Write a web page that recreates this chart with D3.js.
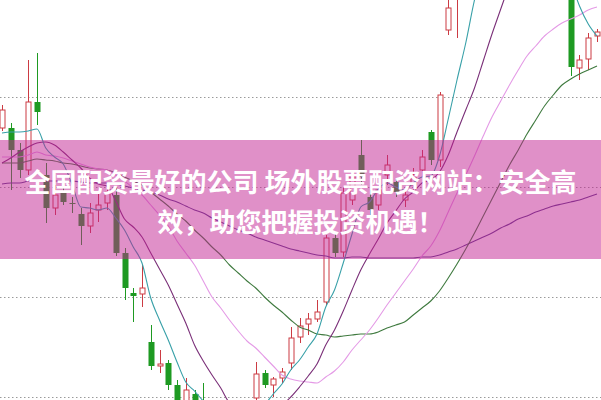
<!DOCTYPE html>
<html>
<head>
<meta charset="utf-8">
<script src="https://cdn.jsdelivr.net/npm/d3@7/dist/d3.min.js"></script>
<style>
  html, body { margin: 0; padding: 0; background: #ffffff; }
  svg { display: block; }
</style>
</head>
<body>
<div id="chart"></div>
<script>
// ---- data (prices) ----
const open = [9.69,9.69,9.47,9.27,9.95,9.22,8.89,9.04,8.94,8.83, 8.71,8.87,8.94,9.02,8.44,8.04,8.03,7.55,7.31,7.34, 7.12,6.95,7.03,6.95,6.79,6.67,6.69,6.62,6.77,6.99, 7.24,7.12,7.19,7.34,7.60,7.73,7.78,7.95,8.59,8.45, 8.97,9.42,9.00,8.92,9.22,9.15,8.97,9.12,9.27,9.65, 9.37,10.67,11.02,11.12,11.32,11.52,11.67,11.69,11.77,11.89, 11.97,11.72,11.62,11.49,11.27,11.15,10.29,10.38,10.61];
const close = [9.87,9.47,9.27,9.95,9.85,8.89,9.02,8.95,8.93,8.71, 8.84,8.92,9.05,8.44,8.09,8.01,8.09,7.31,7.33,7.12, 6.92,7.07,6.87,6.82,6.67,6.72,6.59,6.77,6.87,7.23, 7.12,7.18,7.25,7.59,7.71,7.78,7.85,8.59,8.44,9.04, 9.22,9.20,8.87,9.07,9.32,9.05,9.02,9.22,9.40,9.37, 10.02,10.89,11.17,11.27,11.52,11.67,11.72,11.77,11.92,11.97, 11.72,11.62,11.47,11.27,11.12,10.30,10.37,10.59,10.65];
const high = [9.92,9.74,9.54,10.37,10.44,9.34,9.12,9.12,9.00,8.89, 8.94,9.04,9.15,9.09,8.49,8.09,8.32,7.72,7.47,7.37, 7.17,7.19,7.07,7.14,6.87,6.82,6.77,6.82,6.95,7.35, 7.27,7.20,7.29,7.70,7.79,7.84,7.97,8.62,8.65,9.10, 9.27,9.57,9.07,9.12,9.42,9.19,9.07,9.29,9.47,9.67, 10.05,11.02,11.27,11.37,11.62,11.77,11.87,11.92,12.02,12.12, 12.07,11.82,11.69,11.57,11.35,11.27,10.42,10.64,10.68];
const low = [9.66,9.07,9.19,9.22,9.72,8.74,8.82,8.92,8.84,8.52, 8.64,8.75,8.87,8.41,7.97,7.75,7.90,7.27,7.24,7.07, 6.87,6.92,6.82,6.77,6.57,6.57,6.52,6.55,6.72,6.97, 7.09,7.00,7.14,7.27,7.54,7.62,7.75,7.92,8.40,8.40, 8.92,9.12,8.82,8.87,9.12,9.00,8.90,9.07,9.20,9.32, 9.30,10.62,10.59,11.07,11.27,11.47,11.57,11.62,11.72,11.82, 11.67,11.52,11.42,11.22,11.07,10.21,10.17,10.27,10.55];

const ma5 = [9.64,9.65,9.65,9.66,9.68,9.49,9.40,9.33,9.13,8.90, 8.89,8.87,8.89,8.79,8.67,8.50,8.34,7.99,7.77,7.57, 7.35,7.15,7.06,6.96,6.87,6.83,6.73,6.71,6.72,6.84, 6.92,7.03,7.13,7.27,7.37,7.50,7.63,7.90,8.07,8.34, 8.63,8.90,8.95,9.08,9.14,9.10,9.07,9.14,9.20,9.21, 9.41,9.78,10.17,10.54,10.97,11.30,11.47,11.59,11.72,11.81, 11.82,11.80,11.74,11.61,11.44,11.16,10.91,10.73,10.61];
const ma10 = [9.34,9.39,9.45,9.50,9.54,9.55,9.52,9.45,9.37,9.29, 9.19,9.13,9.11,8.96,8.78,8.70,8.60,8.44,8.28,8.12, 7.93,7.74,7.52,7.36,7.22,7.09,6.94,6.89,6.84,6.85, 6.87,6.88,6.92,7.00,7.10,7.21,7.33,7.52,7.67,7.86, 8.07,8.27,8.43,8.58,8.74,8.86,8.98,9.05,9.14,9.17, 9.25,9.42,9.65,9.87,10.09,10.36,10.63,10.88,11.13,11.39, 11.56,11.64,11.67,11.67,11.63,11.49,11.35,11.24,11.11];
const ma20 = [9.40,9.40,9.40,9.42,9.45,9.42,9.41,9.39,9.36,9.33, 9.30,9.28,9.27,9.22,9.16,9.09,9.02,8.92,8.82,8.71, 8.56,8.44,8.32,8.16,8.00,7.89,7.77,7.66,7.56,7.49, 7.40,7.31,7.22,7.18,7.16,7.15,7.14,7.20,7.26,7.35, 7.47,7.57,7.67,7.79,7.92,8.04,8.16,8.28,8.41,8.51, 8.66,8.85,9.04,9.22,9.41,9.61,9.80,9.96,10.12,10.27, 10.41,10.51,10.61,10.68,10.74,10.78,10.82,10.87,10.90];
const ma30 = [9.34,9.34,9.34,9.36,9.38,9.37,9.36,9.34,9.33,9.31, 9.29,9.28,9.27,9.24,9.20,9.16,9.12,9.05,8.98,8.91, 8.83,8.76,8.67,8.59,8.50,8.42,8.32,8.24,8.16,8.09, 8.00,7.92,7.85,7.77,7.70,7.67,7.63,7.62,7.60,7.61, 7.62,7.63,7.63,7.65,7.69,7.72,7.75,7.82,7.89,7.96, 8.06,8.19,8.33,8.48,8.64,8.81,8.98,9.15,9.32,9.47, 9.63,9.77,9.91,10.02,10.12,10.18,10.23,10.27,10.31];
const ma60 = [9.13,9.14,9.14,9.16,9.17,9.16,9.16,9.16,9.16,9.15, 9.14,9.14,9.14,9.13,9.11,9.09,9.07,9.05,9.02,8.98, 8.95,8.91,8.87,8.84,8.79,8.75,8.71,8.67,8.64,8.60, 8.57,8.54,8.51,8.48,8.46,8.44,8.42,8.41,8.39,8.39, 8.40,8.40,8.39,8.39,8.39,8.39,8.39,8.39,8.40,8.40, 8.42,8.45,8.48,8.52,8.56,8.60,8.64,8.69,8.73,8.78, 8.81,8.85,8.88,8.91,8.93,8.95,8.97,9.00,9.03];

const gridTicks = [7.0, 8.0, 9.1, 10.0];
const bannerLines = ["全国配资最好的公司 场外股票配资网站：安全高", "效，助您把握投资机遇！"];

// ---- layout ----
const W = 601, H = 400;
const n = open.length;
const candles = open.map((o, i) => ({ i, o, c: close[i], h: high[i], l: low[i] }));

const x = d3.scaleLinear().domain([0, n - 1]).range([2, 597]);
const y = d3.scaleLinear().domain([6.97, 10.97]).range([H, 0]);

const RED = "#cc3b43", GREEN = "#1e9a22";

const svg = d3.select("#chart").append("svg")
  .attr("width", W).attr("height", H)
  .attr("viewBox", `0 0 ${W} ${H}`);

svg.append("rect").attr("width", W).attr("height", H).attr("fill", "#ffffff");

svg.append("defs").append("clipPath").attr("id", "plot")
  .append("rect").attr("width", W).attr("height", H);

const g = svg.append("g").attr("clip-path", "url(#plot)");

// grid
g.append("g").selectAll("line").data(gridTicks).join("line")
  .attr("x1", 0).attr("x2", W)
  .attr("y1", d => Math.round(y(d)) + 0.5).attr("y2", d => Math.round(y(d)) + 0.5)
  .attr("stroke", "#9a9a9a").attr("stroke-width", 1)
  .attr("stroke-dasharray", "1.5,2.5");

// candles
const cx = i => Math.round(x(i)) + 0.5;
const cg = g.append("g");
cg.selectAll("line.wick").data(candles).join("line").attr("class", "wick")
  .attr("x1", d => cx(d.i)).attr("x2", d => cx(d.i))
  .attr("y1", d => y(d.h)).attr("y2", d => y(d.l))
  .attr("stroke", d => d.c >= d.o ? RED : GREEN).attr("stroke-width", 1);

cg.selectAll("rect.body").data(candles).join("rect").attr("class", "body")
  .attr("x", d => d.c >= d.o ? cx(d.i) - 2.5 : cx(d.i) - 3)
  .attr("width", d => d.c >= d.o ? 5 : 6)
  .attr("y", d => y(Math.max(d.o, d.c)))
  .attr("height", d => Math.max(1, Math.abs(y(d.o) - y(d.c))))
  .attr("fill", d => d.c >= d.o ? "#ffffff" : GREEN)
  .attr("stroke", d => d.c >= d.o ? RED : "none")
  .attr("stroke-width", 1);

// moving average lines
const series = [
  { v: ma60, color: "#5b3f8c" },
  { v: ma30, color: "#3f7a3f" },
  { v: ma20, color: "#e49ae6" },
  { v: ma10, color: "#7a2f78" },
  { v: ma5,  color: "#38a0a8" }
];
const line = d3.line().x((d, i) => x(i)).y(d => y(d)).curve(d3.curveMonotoneX);
g.append("g").selectAll("path").data(series).join("path")
  .attr("d", s => line(s.v))
  .attr("fill", "none")
  .attr("stroke", s => s.color)
  .attr("stroke-width", 1.1);

// banner overlay
svg.append("rect")
  .attr("x", 0).attr("y", 140).attr("width", W).attr("height", 119)
  .attr("fill", "#c12191").attr("fill-opacity", 0.5);

svg.append("g").selectAll("text").data(bannerLines).join("text")
  .attr("x", W / 2)
  .attr("y", (d, i) => 192 + i * 40)
  .attr("text-anchor", "middle")
  .attr("fill", "#ffffff")
  .attr("font-family", "'Noto Sans CJK SC', 'Noto Sans', sans-serif")
  .attr("font-weight", 700)
  .attr("font-size", 26)
  .text(d => d);
</script>
</body>
</html>
